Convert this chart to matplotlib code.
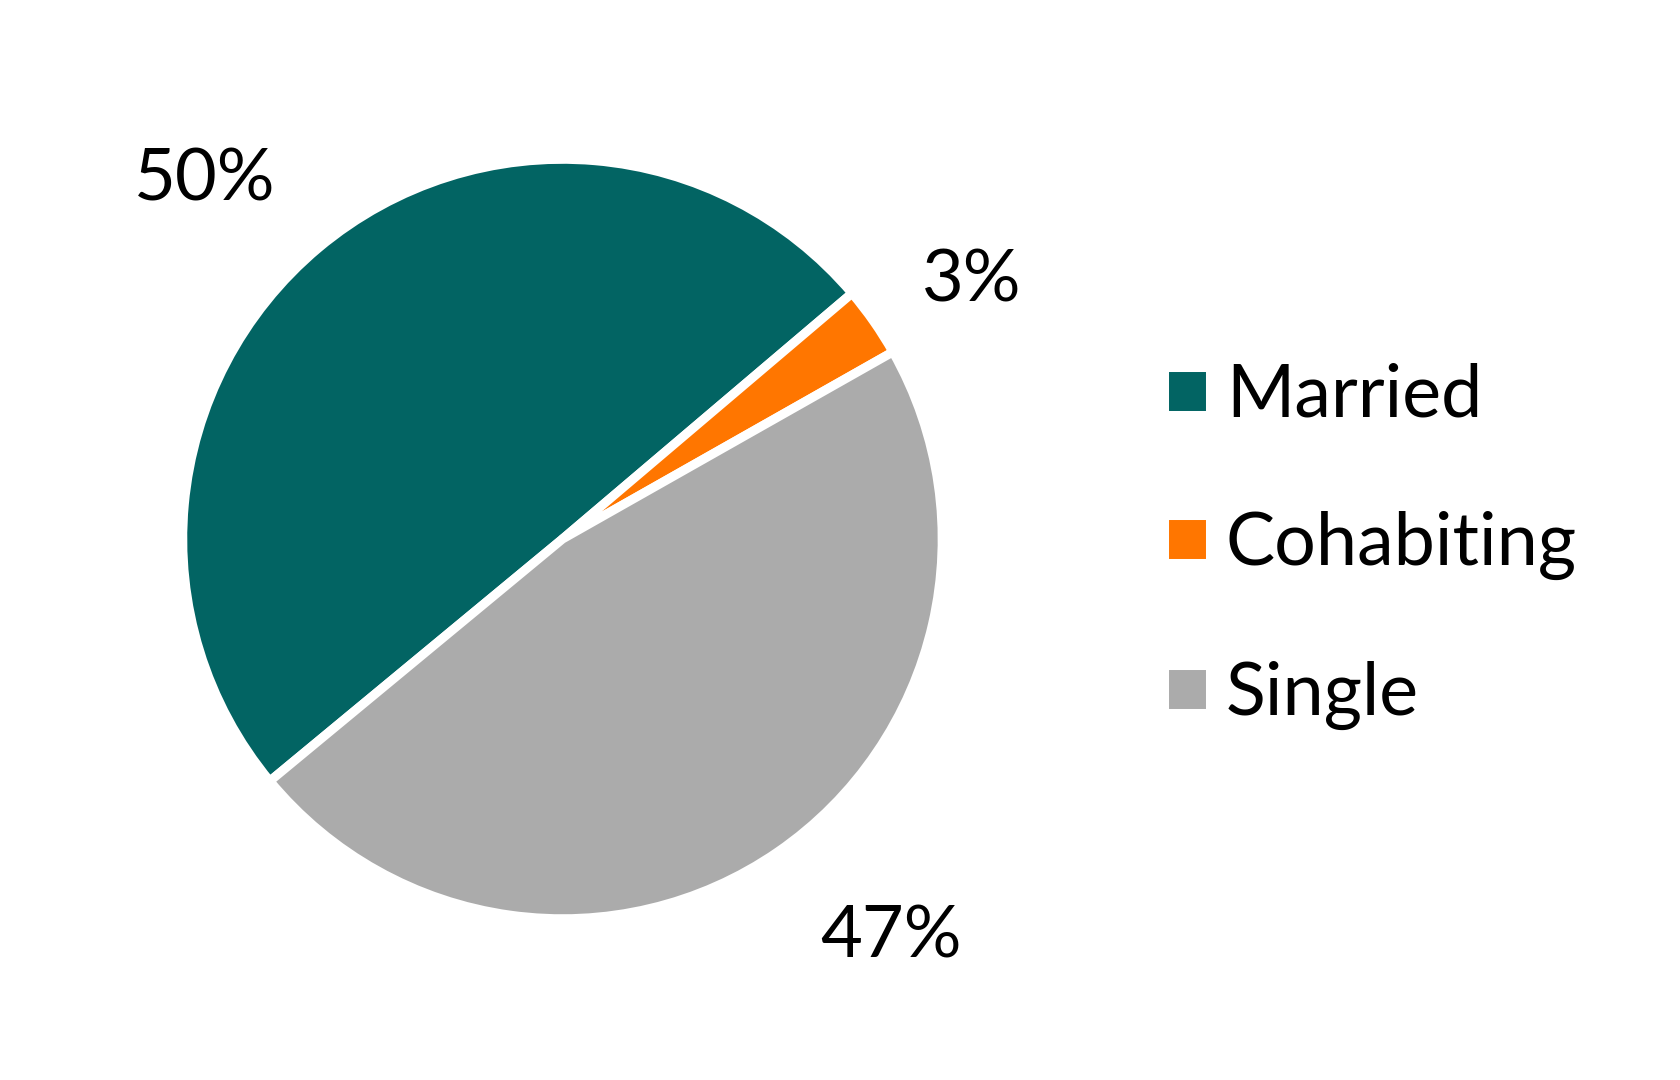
import numpy as np
import matplotlib.pyplot as plt

plt.rcParams['font.family'] = ['Lato', 'DejaVu Sans']

labels = ['Married', 'Cohabiting', 'Single']
shares = [49.8, 3.0, 47.2]
colors = ['#026463', '#FF7600', '#ABABAB']

# label placement (best-fit style, like the original office chart)
label_dist = [1.335, 1.275, 1.36]
label_shift = [5.0, -2.7, 5.0]

fig = plt.figure(figsize=(16.8, 10.8), dpi=100)
w = 0.4476 * 1.01
h = 0.6963 * 1.01
ax = fig.add_axes([0.3348 - w / 2, 0.5009 - h / 2, w, h])

wedges, texts, autotexts = ax.pie(
    shares, colors=colors, startangle=219.6, counterclock=False,
    autopct='%.0f%%', pctdistance=1.33, radius=1,
    wedgeprops=dict(edgecolor='white', linewidth=6.5),
    textprops=dict(fontsize=52, color='black'))
ax.set_xlim(-1, 1)
ax.set_ylim(-1, 1)

for wd, t, d, s in zip(wedges, autotexts, label_dist, label_shift):
    ang = np.deg2rad((wd.theta1 + wd.theta2) / 2 + s)
    t.set_position((d * np.cos(ang), d * np.sin(ang)))

fig.legend(wedges, labels, loc='center left', bbox_to_anchor=(1164 / 1680, 0.494),
           frameon=False, fontsize=53, borderpad=0, borderaxespad=0,
           handlelength=0.62, handleheight=0.62, handletextpad=0.22,
           labelspacing=1.1)

fig.savefig('out.png', dpi=100, facecolor='white')
